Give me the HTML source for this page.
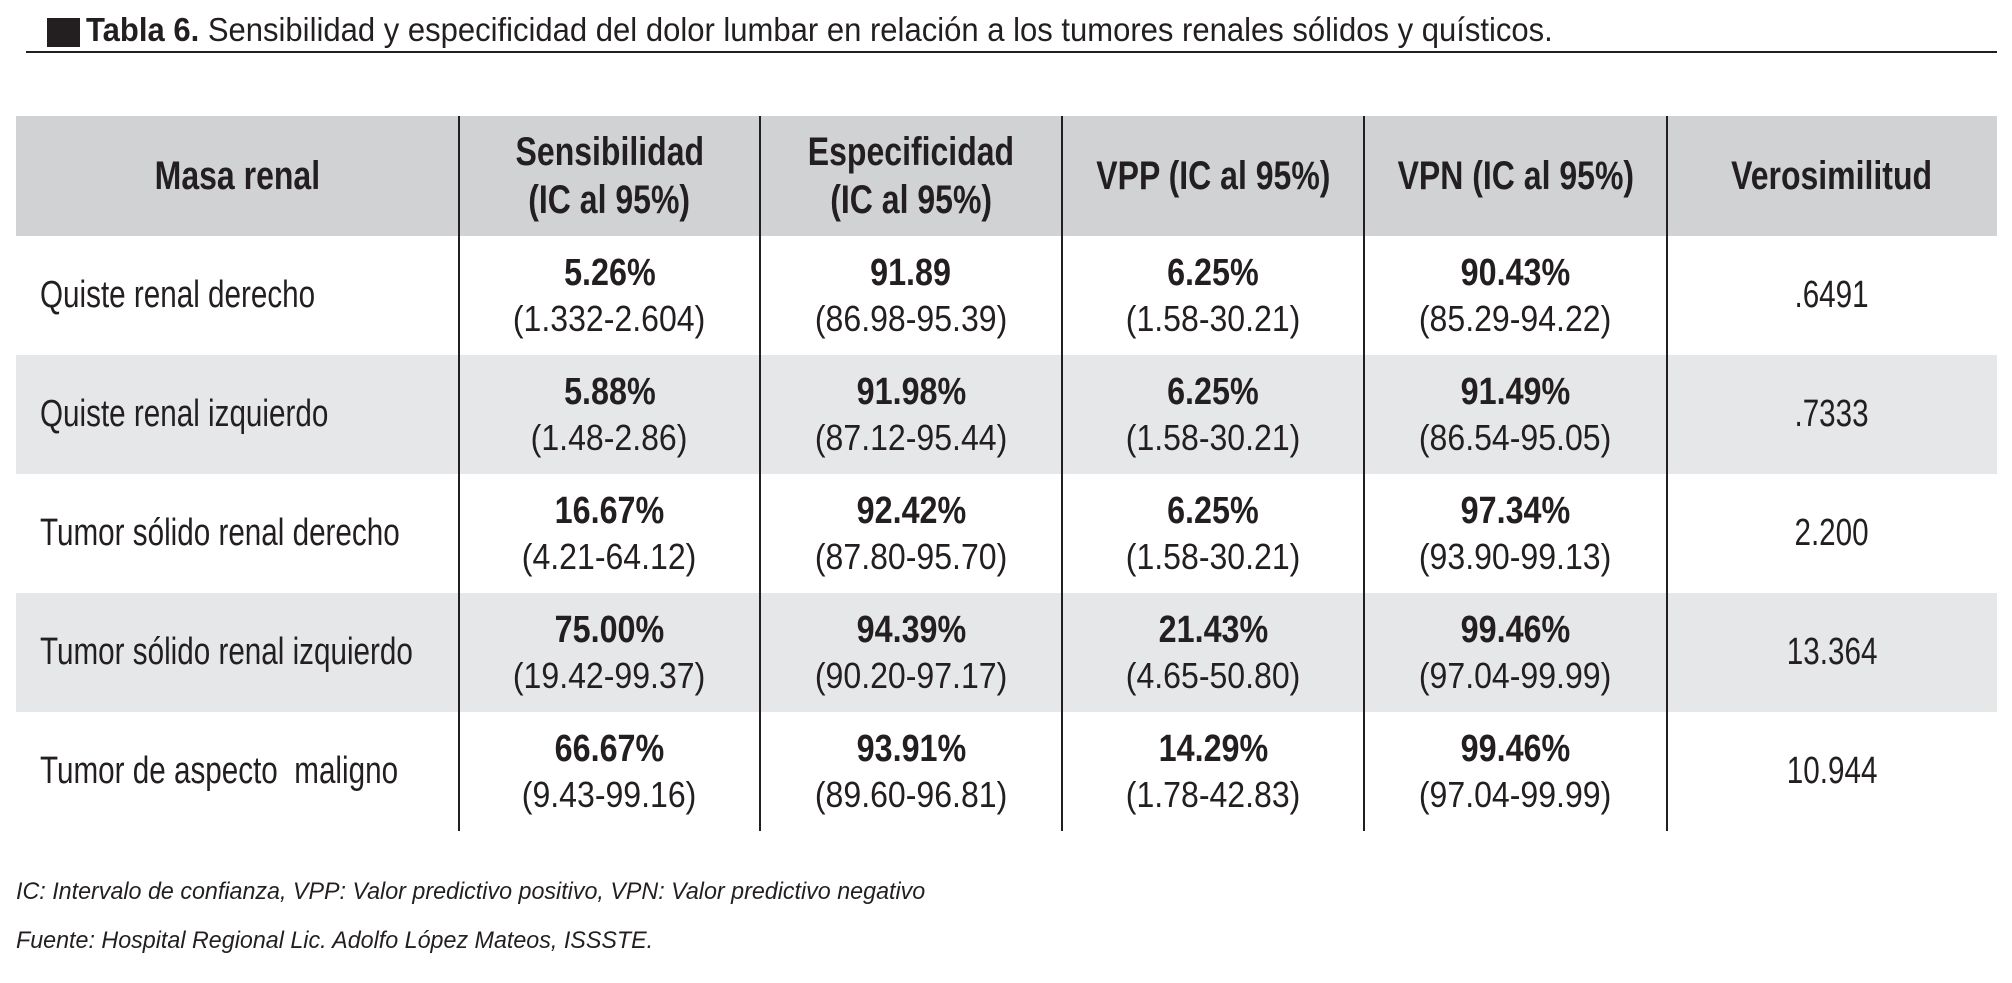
<!DOCTYPE html>
<html><head><meta charset="utf-8">
<style>
html,body{margin:0;padding:0;background:#fff;}
body{width:2012px;height:983px;position:relative;overflow:hidden;font-family:"Liberation Sans Narrow","Liberation Sans",sans-serif;color:#231f20;}
.abs{position:absolute;}
#title{left:86px;top:11px;font-size:33px;white-space:nowrap;transform:scaleX(0.94);transform-origin:left center;}
#title b{font-weight:bold;}
.row{position:absolute;left:16px;width:1981px;}
.cell{position:absolute;top:0;height:100%;display:flex;flex-direction:column;justify-content:center;align-items:center;text-align:center;line-height:1.2;}
.cell.first{align-items:flex-start;padding-left:24px;}
.cell span{display:inline-block;white-space:nowrap;}
.hd{font-weight:bold;font-size:40px;transform:scaleX(0.8);}
.v{font-weight:bold;font-size:38px;transform:scaleX(0.85);}
.ci{font-size:36px;transform:scaleX(0.89);}
.lbl{font-size:38px;transform:scaleX(0.78);}
.first .lbl{transform-origin:left center;}
.vl{position:absolute;width:2px;background:#231f20;top:116px;height:715px;}
.foot{position:absolute;left:16px;font-style:italic;font-size:24px;white-space:nowrap;transform:scaleX(0.97);transform-origin:left center;}
</style></head>
<body>
<div class="abs" style="left:47px;top:18px;width:33px;height:29px;background:#231f20;"></div>
<div id="title" class="abs"><b>Tabla 6.</b> Sensibilidad y especificidad del dolor lumbar en relación a los tumores renales sólidos y quísticos.</div>
<div class="abs" style="left:26px;top:51px;width:1971px;height:2px;background:#231f20;"></div>
<div id="table"></div>
<div class="foot" style="top:878px;">IC: Intervalo de confianza, VPP: Valor predictivo positivo, VPN: Valor predictivo negativo</div>
<div class="foot" style="top:927px;">Fuente: Hospital Regional Lic. Adolfo López Mateos, ISSSTE.</div>
<script>
const headers=["Masa renal","Sensibilidad<br>(IC al 95%)","Especificidad<br>(IC al 95%)","VPP (IC al 95%)","VPN (IC al 95%)","Verosimilitud"];
const labels=["Quiste renal derecho","Quiste renal izquierdo","Tumor sólido renal derecho","Tumor sólido renal izquierdo","Tumor de aspecto&nbsp; maligno"];
const sens=["5.26%","5.88%","16.67%","75.00%","66.67%"];
const sensCI=["(1.332-2.604)","(1.48-2.86)","(4.21-64.12)","(19.42-99.37)","(9.43-99.16)"];
const spec=["91.89","91.98%","92.42%","94.39%","93.91%"];
const specCI=["(86.98-95.39)","(87.12-95.44)","(87.80-95.70)","(90.20-97.17)","(89.60-96.81)"];
const vpp=["6.25%","6.25%","6.25%","21.43%","14.29%"];
const vppCI=["(1.58-30.21)","(1.58-30.21)","(1.58-30.21)","(4.65-50.80)","(1.78-42.83)"];
const vpn=["90.43%","91.49%","97.34%","99.46%","99.46%"];
const vpnCI=["(85.29-94.22)","(86.54-95.05)","(93.90-99.13)","(97.04-99.99)","(97.04-99.99)"];
const lr=[".6491",".7333","2.200","13.364","10.944"];

const colEdges=[16,459,760,1062,1364,1667,1997];
const headTop=116, headH=120, rowH=119;
const T=document.getElementById('table');
function addCell(row,i,html,first){
  const c=document.createElement('div');
  c.className='cell'+(first?' first':'');
  c.style.left=(colEdges[i]-16)+'px';
  c.style.width=(colEdges[i+1]-colEdges[i])+'px';
  c.innerHTML=html;
  
  
  row.appendChild(c);
  return c;
}
const hr=document.createElement('div');
hr.className='row';
hr.style.top=headTop+'px';hr.style.height=headH+'px';hr.style.background='#d1d2d4';


headers.forEach((h,i)=>{
  const parts=h.split('<br>').map(p=>'<span class="hd">'+p+'</span>').join('');
  addCell(hr,i,parts,false);
});
T.appendChild(hr);
for(let r=0;r<labels.length;r++){
  const row=document.createElement('div');
  row.className='row';
  row.style.top=(headTop+headH+r*rowH)+'px';
  row.style.height=rowH+'px';
  row.style.background=(r%2===1)?'#e6e7e8':'#fff';
  
  
  addCell(row,0,'<span class="lbl">'+labels[r]+'</span>',true);
  addCell(row,1,'<span class="v">'+sens[r]+'</span><span class="ci">'+sensCI[r]+'</span>');
  addCell(row,2,'<span class="v">'+spec[r]+'</span><span class="ci">'+specCI[r]+'</span>');
  addCell(row,3,'<span class="v">'+vpp[r]+'</span><span class="ci">'+vppCI[r]+'</span>');
  addCell(row,4,'<span class="v">'+vpn[r]+'</span><span class="ci">'+vpnCI[r]+'</span>');
  addCell(row,5,'<span class="lbl">'+lr[r]+'</span>');
  T.appendChild(row);
}
for(let i=1;i<colEdges.length-1;i++){
  const l=document.createElement('div');
  l.className='vl';
  l.style.left=(colEdges[i]-1)+'px';
  
  
  T.appendChild(l);
}
</script>
</body></html>
